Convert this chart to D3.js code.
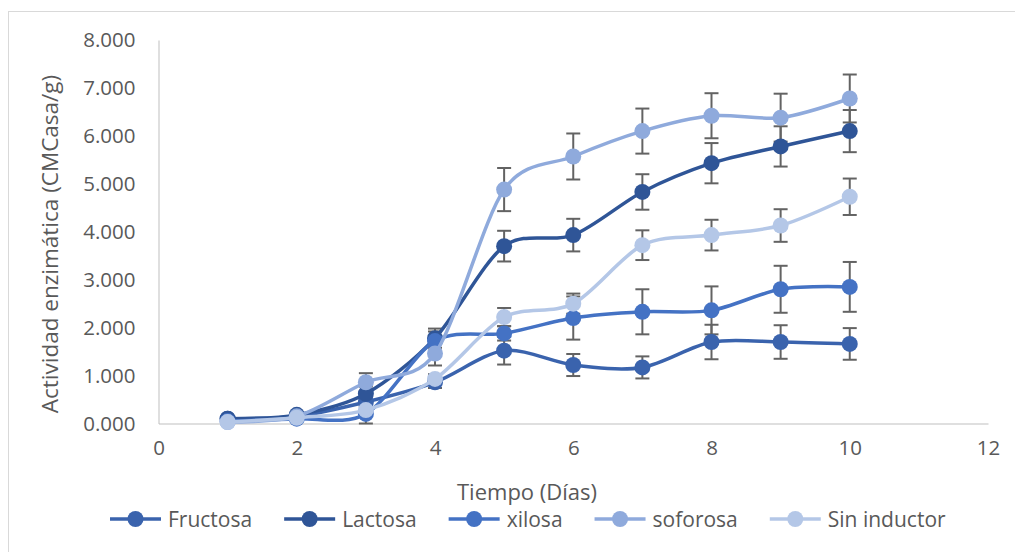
<!DOCTYPE html>
<html>
<head>
<meta charset="utf-8">
<title>Actividad enzimática</title>
<style>
  body { margin: 0; background: #fff; }
  svg { display: block; }
</style>
</head>
<body>
<div id="chart"></div>
<script src="https://d3js.org/d3.v7.min.js"></script>
<script>
const dias = [1, 2, 3, 4, 5, 6, 7, 8, 9, 10];
const fructosa = [0.10, 0.15, 0.45, 0.86, 1.52, 1.22, 1.17, 1.70, 1.70, 1.66];
const lactosa = [0.10, 0.18, 0.62, 1.78, 3.70, 3.93, 4.83, 5.43, 5.78, 6.10];
const xilosa = [0.05, 0.10, 0.20, 1.72, 1.88, 2.20, 2.33, 2.36, 2.80, 2.85];
const soforosa = [0.03, 0.15, 0.86, 1.46, 4.88, 5.57, 6.10, 6.42, 6.38, 6.78];
const sinInductor = [0.03, 0.12, 0.28, 0.93, 2.22, 2.50, 3.72, 3.93, 4.13, 4.73];

const fructosaErr = [0.02, 0.03, 0.10, 0.12, 0.29, 0.23, 0.23, 0.36, 0.35, 0.33];
const lactosaErr = [0.02, 0.03, 0.15, 0.20, 0.32, 0.34, 0.37, 0.42, 0.42, 0.44];
const xilosaErr = [0.01, 0.02, 0.20, 0.20, 0.15, 0.45, 0.47, 0.50, 0.49, 0.52];
const soforosaErr = [0.01, 0.03, 0.19, 0.25, 0.45, 0.48, 0.47, 0.47, 0.50, 0.50];
const sinInductorErr = [0.01, 0.02, 0.08, 0.10, 0.19, 0.21, 0.31, 0.32, 0.34, 0.38];

const seriesNames = ['Fructosa', 'Lactosa', 'xilosa', 'soforosa', 'Sin inductor'];
const seriesColors = ['#3a63ad', '#2f5597', '#4472c4', '#8faadc', '#b4c7e7'];
const xTicks = [0, 2, 4, 6, 8, 10, 12];
const yTicks = [0, 1, 2, 3, 4, 5, 6, 7, 8];

const series = [
  { name: seriesNames[0], color: seriesColors[0], values: fructosa, err: fructosaErr },
  { name: seriesNames[1], color: seriesColors[1], values: lactosa, err: lactosaErr },
  { name: seriesNames[2], color: seriesColors[2], values: xilosa, err: xilosaErr },
  { name: seriesNames[3], color: seriesColors[3], values: soforosa, err: soforosaErr },
  { name: seriesNames[4], color: seriesColors[4], values: sinInductor, err: sinInductorErr },
];

const width = 1015;
const height = 552;
const font = '"Open Sans", sans-serif';
const textColor = '#595959';

const svg = d3.select('#chart')
  .append('svg')
  .attr('width', width)
  .attr('height', height);

// outer chart border
svg.append('rect')
  .attr('x', 8.5)
  .attr('y', 11.5)
  .attr('width', 1020)
  .attr('height', 600)
  .attr('fill', 'none')
  .attr('stroke', '#d9d9d9');

const x = d3.scaleLinear().domain([0, 12]).range([158.5, 988]);
const y = d3.scaleLinear().domain([0, 8]).range([423.5, 40]);

// axes
const xAxis = svg.append('g')
  .attr('transform', `translate(0,${y(0)})`)
  .call(d3.axisBottom(x).tickValues(xTicks).tickSize(0).tickPadding(17));
xAxis.select('.domain').attr('stroke', '#bfbfbf');
xAxis.selectAll('text')
  .attr('font-family', font)
  .attr('font-size', 20.5)
  .attr('fill', textColor);

const yAxis = svg.append('g')
  .attr('transform', `translate(${x(0)},0)`)
  .call(d3.axisLeft(y).tickValues(yTicks).tickSize(0).tickPadding(23)
    .tickFormat(d => d3.format('.3f')(d)));
yAxis.select('.domain').attr('stroke', '#bfbfbf');
yAxis.selectAll('text')
  .attr('font-family', font)
  .attr('font-size', 20.5)
  .attr('fill', textColor);

// axis titles
svg.append('text')
  .attr('transform', `translate(58,244) rotate(-90)`)
  .attr('text-anchor', 'middle')
  .attr('font-family', font)
  .attr('font-size', 22.5)
  .attr('fill', textColor)
  .text('Actividad enzimática (CMCasa/g)');

svg.append('text')
  .attr('x', 527)
  .attr('y', 500)
  .attr('text-anchor', 'middle')
  .attr('font-family', font)
  .attr('font-size', 22)
  .attr('fill', textColor)
  .text('Tiempo (Días)');

// error bars
const capHalf = 7;
series.forEach(s => {
  const g = svg.append('g')
    .attr('stroke', '#636363')
    .attr('stroke-width', 2);
  dias.forEach((d, i) => {
    const lo = y(Math.max(0, s.values[i] - s.err[i]));
    const hi = y(s.values[i] + s.err[i]);
    g.append('line').attr('x1', x(d)).attr('x2', x(d)).attr('y1', lo).attr('y2', hi);
    g.append('line').attr('x1', x(d) - capHalf).attr('x2', x(d) + capHalf).attr('y1', lo).attr('y2', lo);
    g.append('line').attr('x1', x(d) - capHalf).attr('x2', x(d) + capHalf).attr('y1', hi).attr('y2', hi);
  });
});

// lines and markers
const line = d3.line()
  .x((d, i) => x(dias[i]))
  .y(d => y(d))
  .curve(d3.curveCardinal.tension(0.1));

series.forEach(s => {
  svg.append('path')
    .datum(s.values)
    .attr('fill', 'none')
    .attr('stroke', s.color)
    .attr('stroke-width', 3.5)
    .attr('d', line);

  svg.append('g')
    .selectAll('circle')
    .data(s.values)
    .enter()
    .append('circle')
    .attr('cx', (d, i) => x(dias[i]))
    .attr('cy', d => y(d))
    .attr('r', 8)
    .attr('fill', s.color);
});

// legend, laid out left to right from measured text widths
const legend = svg.append('g').attr('transform', 'translate(110,519)');
let offset = 0;
series.forEach(s => {
  const item = legend.append('g').attr('transform', `translate(${offset},0)`);
  item.append('line')
    .attr('x1', 0).attr('x2', 51)
    .attr('y1', 0).attr('y2', 0)
    .attr('stroke', s.color)
    .attr('stroke-width', 3.5);
  item.append('circle')
    .attr('cx', 25.5).attr('cy', 0).attr('r', 8)
    .attr('fill', s.color);
  const label = item.append('text')
    .attr('x', 58)
    .attr('y', 0)
    .attr('dy', '0.36em')
    .attr('font-family', font)
    .attr('font-size', 21)
    .attr('fill', textColor)
    .text(s.name);
  offset += 58 + label.node().getComputedTextLength() + 32;
});
</script>
</body>
</html>
